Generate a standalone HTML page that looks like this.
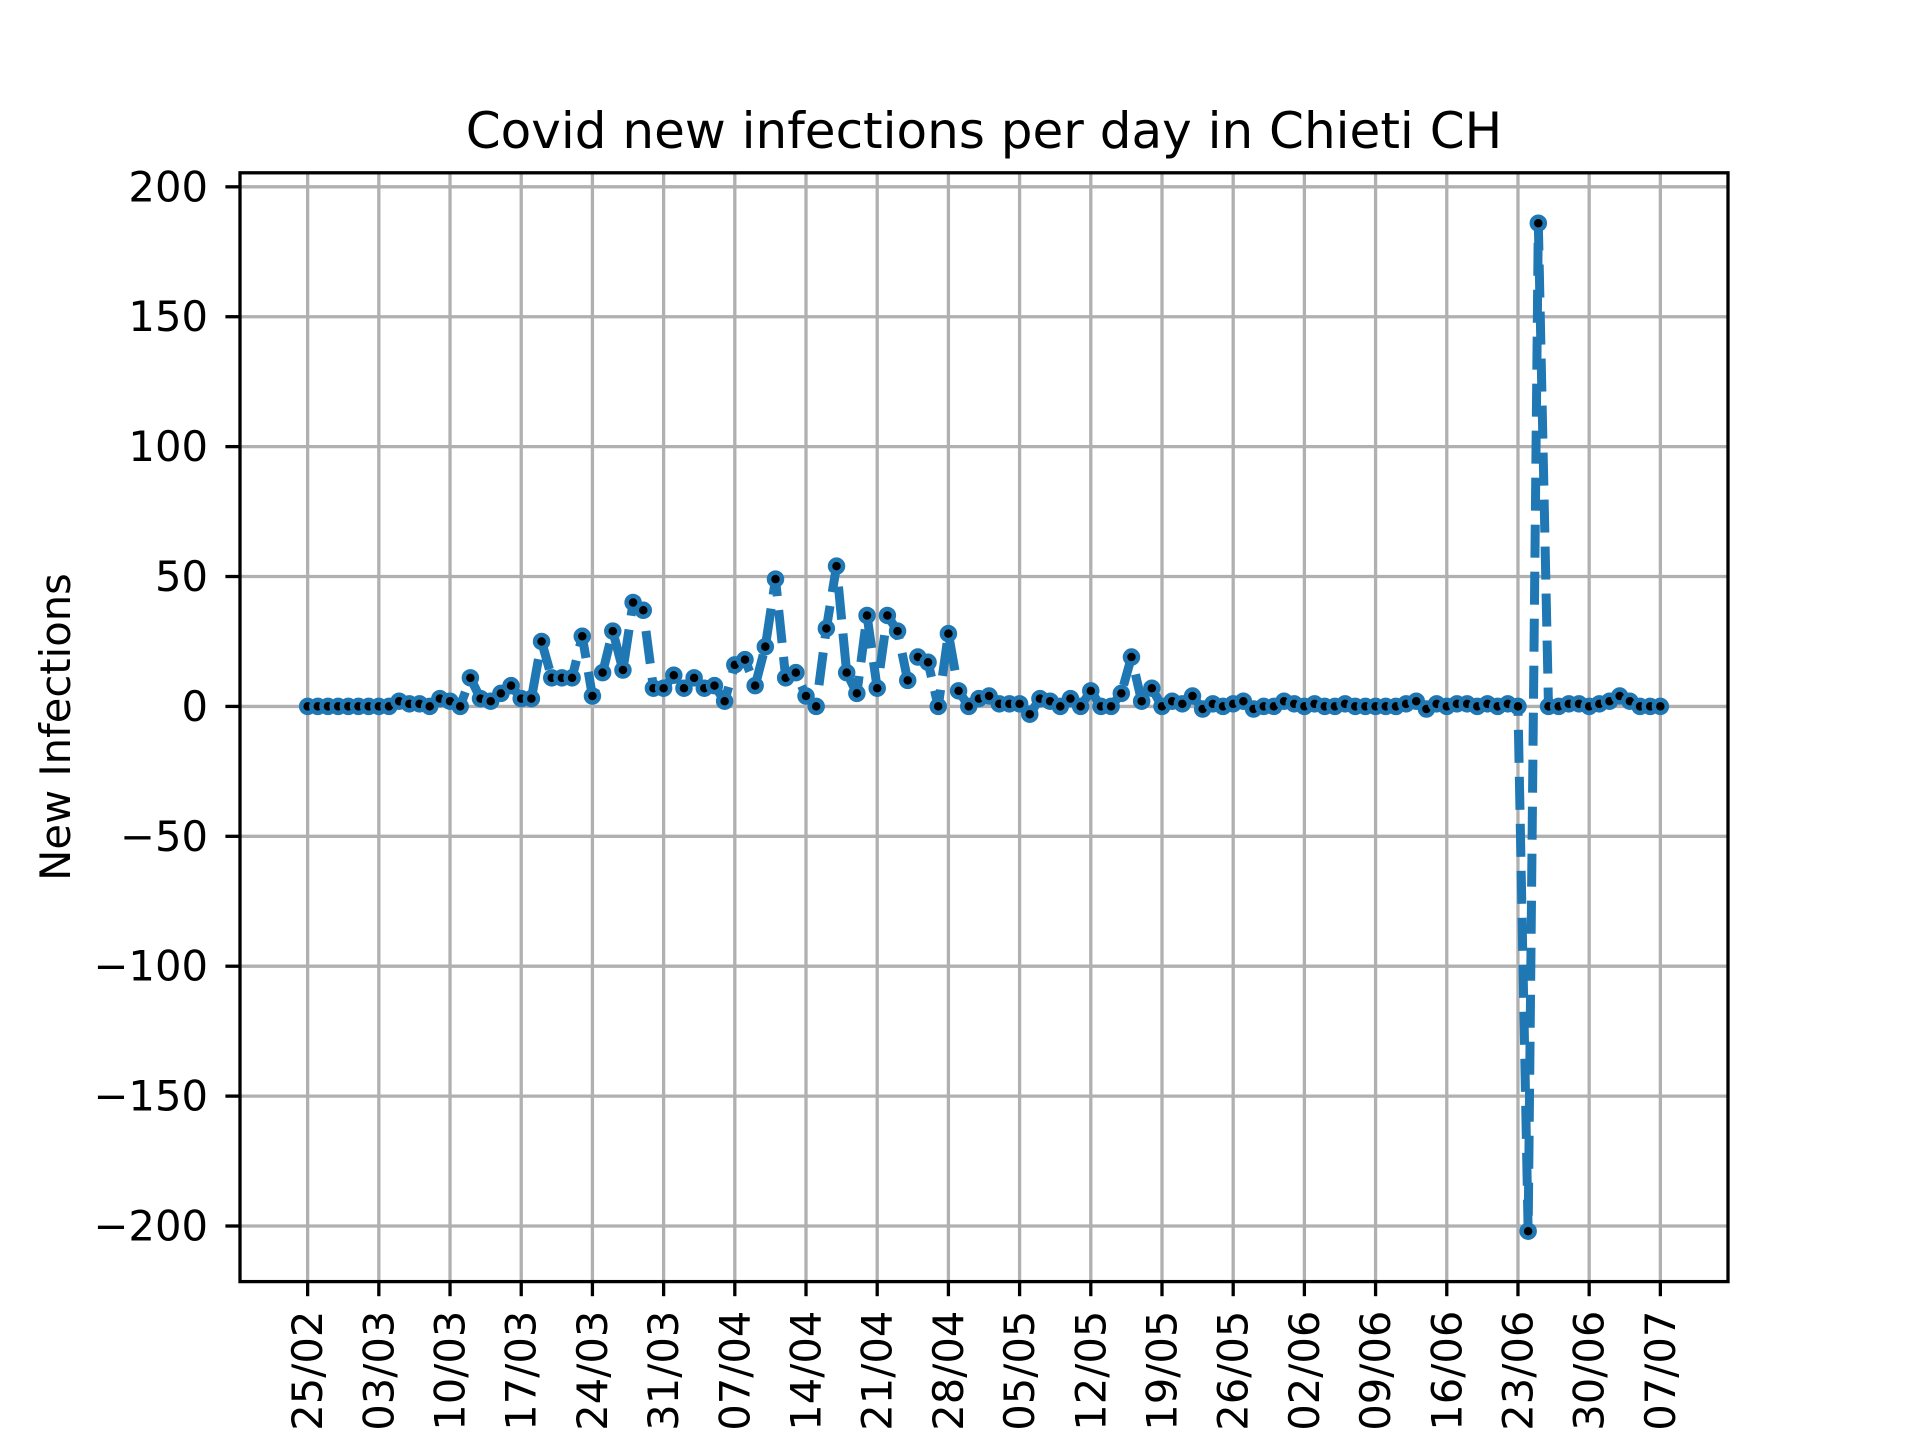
<!DOCTYPE html>
<html><head><meta charset="utf-8"><title>Covid new infections per day in Chieti CH</title>
<style>html,body{margin:0;padding:0;background:#fff}svg{display:block}text{font-family:"DejaVu Sans","Liberation Sans",sans-serif;fill:#000}</style>
</head><body>
<svg id="chart" width="1920" height="1440" viewBox="0 0 1920 1440" xmlns="http://www.w3.org/2000/svg">
<rect width="1920" height="1440" fill="#fff"/>
<g id="grid"></g>
<g id="series"></g>
<g id="axes"></g>
<text x="984" y="148" font-size="50" text-anchor="middle">Covid new infections per day in Chieti CH</text>
<text transform="translate(70,727) rotate(-90)" font-size="41.7" text-anchor="middle">New Infections</text>
</svg>
<script>
const values = [0,0,0,0,0,0,0, 0,0,2,1,1,0,3, 2,0,11,3,2,5,8, 3,3,25,11,11,11,27, 4,13,29,14,40,37,7, 7,12,7,11,7,8,2, 16,
18,8,23,49,11,13,4,0,30,54, 13,5,35,7,35,29,10,19,17,0, 28,6,0,3,4,1,1,1,-3,3, 2,0,3,0,6,0,0,5,19,2, 7,0,2,1,4,-1,1,0,1,2, -1,0,0,2,1,
0,1,0,0,1,0,0,0,0,0,1,2,-1,1,0,1,1,0,1,0,1,0, -202,186, 0,0,1,1,0,1,2,4,2,0,0,0];
const xTickLabels = ["25/02","03/03","10/03","17/03","24/03","31/03","07/04","14/04","21/04","28/04","05/05","12/05","19/05","26/05","02/06","09/06","16/06","23/06","30/06","07/07"];
const yTicks = [-200,-150,-100,-50,0,50,100,150,200];

const NS = "http://www.w3.org/2000/svg";
const L=240, R=1728, T=172.8, B=1281.6;
const n = values.length;
const xmin = -0.05*(n-1), xmax = (n-1)*1.05;
const vmin = Math.min(...values), vmax = Math.max(...values);
const ymin = vmin-0.05*(vmax-vmin), ymax = vmax+0.05*(vmax-vmin);
function xs(i){return L+(i-xmin)/(xmax-xmin)*(R-L);}
function ys(v){return B-(v-ymin)/(ymax-ymin)*(B-T);}
function mk(tag, attrs, parent){const e=document.createElementNS(NS,tag);for(const k in attrs)e.setAttribute(k,attrs[k]);parent.appendChild(e);return e;}
const grid=document.getElementById('grid'), axes=document.getElementById('axes'), series=document.getElementById('series');

xTickLabels.forEach((lab,k)=>{
  const x=xs(k*7);
  const g=mk('line',{x1:x,x2:x,y1:T,y2:B,stroke:'#b0b0b0','stroke-width':3.3},grid);
  
  
  const t=mk('line',{x1:x,x2:x,y1:B,y2:B+14.6,stroke:'#000','stroke-width':3.3},axes);
  
  
  const tx=mk('text',{transform:`translate(${x},${B+29}) rotate(-90)`,'font-size':41.7,'text-anchor':'end','dominant-baseline':'central'},axes);
  tx.textContent=lab;
  
  
});
yTicks.forEach(v=>{
  const y=ys(v);
  const g=mk('line',{x1:L,x2:R,y1:y,y2:y,stroke:'#b0b0b0','stroke-width':3.3},grid);
  
  
  const t=mk('line',{x1:L-14.6,x2:L,y1:y,y2:y,stroke:'#000','stroke-width':3.3},axes);
  
  
  const tx=mk('text',{x:208,y:y,'font-size':41.7,'text-anchor':'end','dominant-baseline':'central'},axes);
  tx.textContent=(v<0?'\u2212':'')+Math.abs(v);
  
  
});
const frame=mk('rect',{x:L,y:T,width:R-L,height:B-T,fill:'none',stroke:'#000','stroke-width':3.3},axes);



const pts=values.map((v,i)=>xs(i).toFixed(2)+','+ys(v).toFixed(2)).join(' ');
const line=mk('polyline',{points:pts,fill:'none',stroke:'#1f77b4','stroke-width':9,'stroke-dasharray':'33 14','stroke-linejoin':'round'},series);


values.forEach((v,i)=>{
  const c=mk('circle',{cx:xs(i),cy:ys(v),r:6.5,fill:'#000',stroke:'#1f77b4','stroke-width':4.5},series);
  
  
});
</script>
</body></html>
